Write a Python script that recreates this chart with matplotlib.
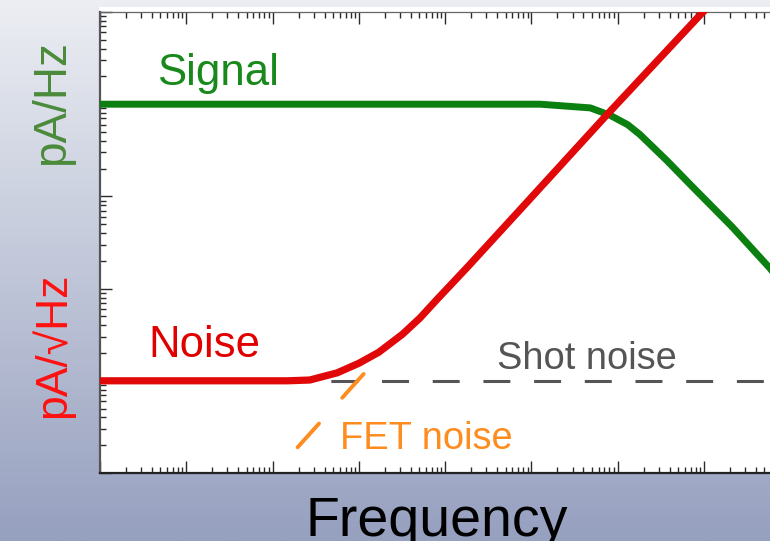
import numpy as np
import matplotlib
matplotlib.use("Agg")
import matplotlib.pyplot as plt
from matplotlib.ticker import LogLocator, NullFormatter
from matplotlib.patches import Rectangle

plt.rcParams["font.family"] = ["Liberation Sans", "DejaVu Sans"]
plt.rcParams["lines.scale_dashes"] = False

# signal current spectrum (pA/Hz) vs frequency (Hz)
signal_freq = [1, 1.26e5, 2.45e5, 4.8e5, 8.1e5, 1.3e6, 1.8e6, 3.7e6, 7.4e6, 2.1e7, 5.8e7, 1.3e8]
signal_amp = [1e4, 1e4, 9550, 9120, 7600, 6000, 4700, 2450, 1260, 470, 166, 66]

# total noise spectrum (pA/sqrt(Hz))
noise_freq = [1, 150, 270, 560, 1000, 1700, 3200, 5100, 7900, 1.8e4, 6.8e4, 7.4e5, 9.5e6, 1.6e7]
noise_amp = [10, 10, 10.2, 12.2, 15.5, 20.4, 32, 48, 75, 170, 660, 7600, 9.8e4, 1.6e5]

# FET noise asymptote and shot noise floor
fet_freq = [195, 1230]
fet_amp = [1.9, 12.9]
shot_freq = [1, 1e9]
shot_amp = [10, 10]

W, H = 770, 541
fig = plt.figure(figsize=(W / 100, H / 100), dpi=100)


def fpos(x, y):
    return x / W, 1 - y / H


# background gradient
bg = fig.add_axes([0, 0, 1, 1], zorder=-10)
top = np.array([236, 238, 243]) / 255
bot = np.array([150, 160, 191]) / 255
t = np.linspace(0, 1, 256)[:, None]
grad = (top[None, :] * (1 - t) + bot[None, :] * t)[:, None, :]
bg.imshow(grad, aspect="auto", extent=[0, 1, 0, 1])
bg.axis("off")

# thin white margin above the top frame
fig.patches.append(Rectangle(fpos(99, 12), 671 / W, 5 / H, transform=fig.transFigure,
                             facecolor="white", edgecolor="none", zorder=-5))

ax = fig.add_axes([100 / W, 1 - 473 / H, 670 / W, 461 / H])
ax.set_facecolor("white")
ax.set_xscale("log")
ax.set_yscale("log")
ax.set_xlim(1, 10 ** (670 / 86.3))
ax.set_ylim(1, 1e5)

ax.plot(shot_freq, shot_amp, color="#555555", lw=2.2,
        linestyle=(16.3, (19.4, 17.1)), zorder=2)
ax.plot(fet_freq, fet_amp, color="#ff8c1e", lw=2.8,
        linestyle=(0, (23, 25)), dash_capstyle="round", zorder=3)
ax.plot(signal_freq, signal_amp, color="#0b7f10", lw=5, zorder=4,
        solid_joinstyle="round")
ax.plot(noise_freq, noise_amp, color="#e00808", lw=5.2, zorder=5,
        solid_joinstyle="round")

for axis in (ax.xaxis, ax.yaxis):
    axis.set_major_locator(LogLocator(base=10, numticks=100))
    axis.set_minor_locator(LogLocator(base=10, subs=np.arange(2, 10), numticks=100))
    axis.set_major_formatter(NullFormatter())
    axis.set_minor_formatter(NullFormatter())

ax.tick_params(which="both", direction="in", top=True, bottom=True, left=True, right=False,
               color="#2a2a2a", width=1.0)
ax.tick_params(which="major", length=8.5)
ax.tick_params(which="minor", length=4.3)

ax.spines["right"].set_visible(False)
ax.spines["left"].set_color("#555555")
ax.spines["left"].set_linewidth(1.6)
ax.spines["bottom"].set_color("#222222")
ax.spines["bottom"].set_linewidth(1.6)
ax.spines["top"].set_color("#666666")
ax.spines["top"].set_linewidth(0.9)

# curve labels
fig.text(*fpos(157, 85), "Signal", color="#18891a", fontsize=31.5, va="baseline", ha="left")
fig.text(*fpos(148, 357), "Noise", color="#e00000", fontsize=31.5, va="baseline", ha="left")
fig.text(*fpos(497, 369), "Shot noise", color="#555555", fontsize=27.4, va="baseline", ha="left")
fig.text(*fpos(340, 449), "FET noise", color="#ff8c1e", fontsize=27.4, va="baseline", ha="left")

# axis titles
fig.text(*fpos(52, 103), "pA/Hz", color="#4b8a3b", fontsize=33, rotation=90,
         ha="center", va="center")
fig.text(*fpos(52, 345), "pA/\u221aHz", color="#ff1010", fontsize=32, rotation=90,
         ha="center", va="center")
fig.text(*fpos(437, 536), "Frequency", color="black", fontsize=40, ha="center", va="baseline")

fig.savefig("out.png", dpi=100)
